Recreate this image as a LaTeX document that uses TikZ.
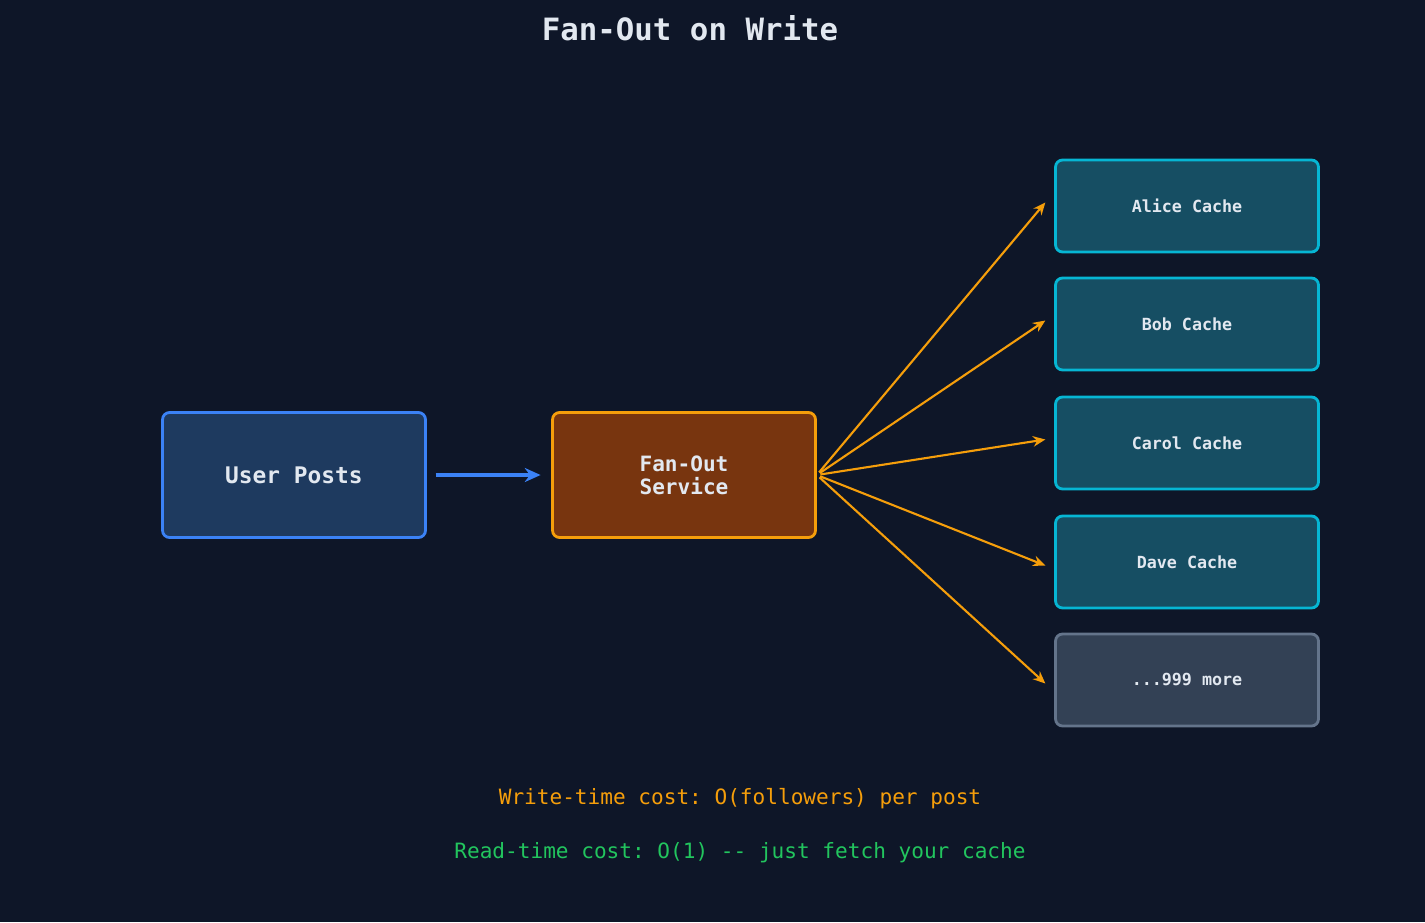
\documentclass[tikz,border=0pt]{standalone}
\usepackage{fontspec}
\setmonofont{DejaVu Sans Mono}
\usetikzlibrary{arrows.meta,positioning}
\definecolor{bgc}{HTML}{0E1628}
\definecolor{txt}{HTML}{E2E8F0}
\definecolor{userfill}{HTML}{1E3A5F}
\definecolor{userline}{HTML}{3B82F6}
\definecolor{svcfill}{HTML}{78350F}
\definecolor{svcline}{HTML}{F59E0B}
\definecolor{cachefill}{HTML}{164E63}
\definecolor{cacheline}{HTML}{06B6D4}
\definecolor{morefill}{HTML}{334155}
\definecolor{moreline}{HTML}{64748B}
\definecolor{okgreen}{HTML}{22C55E}
\tikzset{
  box/.style={rounded corners=4pt, line width=1.6pt, minimum width=5.26cm, text=txt, font=\ttfamily\bfseries, align=center},
  bigbox/.style={box, minimum height=2.5cm, font=\ttfamily\bfseries\fontsize{13}{13}\selectfont},
  cache/.style={box, minimum height=1.84cm, fill=cachefill, draw=cacheline, font=\ttfamily\bfseries\fontsize{9.5}{10}\selectfont},
  fan/.style={-{Stealth[length=7pt,width=6pt]}, svcline, line width=1.2pt}
}
\begin{document}
\begin{tikzpicture}[x=0.02cm,y=-0.02cm]
  \fill[bgc] (0,0) rectangle (1425,922);
  \useasboundingbox (0,0) rectangle (1425,922);

  \node[text=txt, font=\ttfamily\bfseries\fontsize{17.5}{18}\selectfont] (title) at (690,28) {Fan-Out on Write};

  \node[bigbox, fill=userfill, draw=userline] (user) at (294,475) {User Posts};
  \node[bigbox, fill=svcfill, draw=svcline, font=\ttfamily\bfseries\fontsize{12}{13}\selectfont] (svc) at (684,475) {Fan-Out\\Service};

  \node[cache] (alice) at (1187,206) {Alice Cache};
  \node[cache] (bob) at (1187,324) {Bob Cache};
  \node[cache] (carol) at (1187,443) {Carol Cache};
  \node[cache] (dave) at (1187,562) {Dave Cache};
  \node[cache, fill=morefill, draw=moreline] (more) at (1187,680) {...999 more};

  \draw[-{Stealth[length=9pt,width=8pt]}, userline, line width=2pt, shorten <=5pt, shorten >=6pt] (user.east) -- (svc.west);

  \foreach \c/\dy in {alice/2,bob/2,carol/2,dave/-2,more/-2}
    \draw[fan, shorten <=2pt] (svc.east) -- ([xshift=-5pt,yshift=\dy pt]\c.west);

  \node[text=svcline, font=\ttfamily\fontsize{12}{13}\selectfont] (wcost) at (740,799) {Write-time cost: O(followers) per post};
  \node[text=okgreen, font=\ttfamily\fontsize{12}{13}\selectfont] (rcost) at (740,853) {Read-time cost: O(1) -- just fetch your cache};
\end{tikzpicture}
\end{document}
